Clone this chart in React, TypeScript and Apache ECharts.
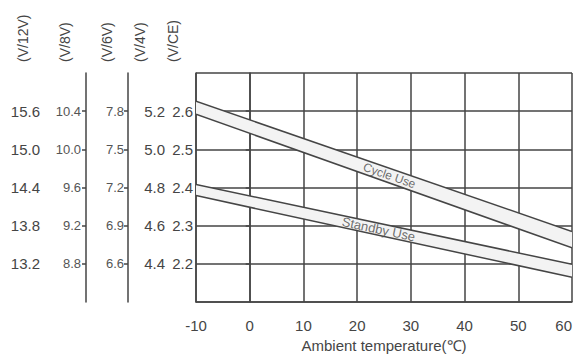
import React, { useEffect, useRef } from "react";
import * as echarts from "echarts";

// Ambient temperature ticks (°C)
const temperatures = [-10, 0, 10, 20, 30, 40, 50, 60];

// Charging-voltage bands, per cell (V/CE), at -10 °C and 60 °C
const bandTemps = [-10, 60];
const cycleUpper = [2.626, 2.285];
const cycleLower = [2.592, 2.242];
const standbyUpper = [2.408, 2.199];
const standbyLower = [2.379, 2.165];

// Labelled ticks of each voltage scale
const ticks12V = [13.2, 13.8, 14.4, 15.0, 15.6];
const ticks8V = [8.8, 9.2, 9.6, 10.0, 10.4];
const ticks6V = [6.6, 6.9, 7.2, 7.5, 7.8];
const ticks4V = [4.4, 4.6, 4.8, 5.0, 5.2];
const ticksCE = [2.2, 2.3, 2.4, 2.5, 2.6];

const scaleNames = ["(V/12V)", "(V/8V)", "(V/6V)", "(V/4V)", "(V/CE)"];

const cycleLabel = "Cycle Use";
const standbyLabel = "Standby Use";
const cycleLabelTemp = 26;
const standbyLabelTemp = 24;

const FONT = "'Liberation Sans', Arial, sans-serif";
const INK = "#454545";

const round = (v: number) => Math.round(v * 10000) / 10000;

function voltAxis(
  ticks: number[],
  offset: number,
  o: { line: boolean; split: boolean; margin: number; size: number; color: string }
) {
  const step = round(ticks[1] - ticks[0]);
  return {
    type: "value",
    position: "left",
    offset,
    min: round(ticks[0] - step),
    max: round(ticks[ticks.length - 1] + step),
    interval: step,
    axisLine: { show: o.line, lineStyle: { color: INK, width: 1.5 } },
    axisTick: { show: o.line && !o.split, length: 4, lineStyle: { color: INK, width: 1.5 } },
    axisLabel: {
      showMinLabel: false,
      showMaxLabel: false,
      margin: o.margin,
      fontSize: o.size,
      color: o.color,
      fontFamily: FONT,
      formatter: (v: number) => v.toFixed(1),
    },
    splitLine: { show: o.split, lineStyle: { color: INK, width: 1.5 } },
  };
}

const lerp = (xs: number[], ys: number[], x: number) =>
  ys[0] + ((ys[1] - ys[0]) * (x - xs[0])) / (xs[1] - xs[0]);

// One band: a filled polygon between its upper and lower edge, outlined
function bandSeries(lower: number[], upper: number[]) {
  return {
    type: "custom",
    yAxisIndex: 4,
    z: 3,
    clip: true,
    encode: { x: 0, y: 1 },
    data: bandTemps.map((t, i) => [t, upper[i], lower[i]]),
    renderItem: (params: any, api: any) => {
      if (params.dataIndex !== 0) return null;
      const top = bandTemps.map((t, i) => api.coord([t, upper[i]]));
      const bottom = bandTemps.map((t, i) => api.coord([t, lower[i]])).reverse();
      return {
        type: "group",
        children: [
          {
            type: "polygon",
            shape: { points: [...top, ...bottom] },
            style: { fill: "#f3f3f3", stroke: "none" },
          },
          {
            type: "polyline",
            shape: { points: top },
            style: { fill: "none", stroke: INK, lineWidth: 1.5 },
          },
          {
            type: "polyline",
            shape: { points: bottom },
            style: { fill: "none", stroke: INK, lineWidth: 1.5 },
          },
        ],
      };
    },
  };
}

function labelSeries(text: string, temp: number, lower: number[], upper: number[], rotate: number, size: number) {
  const mid = (lerp(bandTemps, lower, temp) + lerp(bandTemps, upper, temp)) / 2;
  return {
    type: "scatter",
    yAxisIndex: 4,
    symbolSize: 1,
    z: 6,
    itemStyle: { color: "rgba(0,0,0,0)" },
    label: {
      show: true,
      position: "inside",
      formatter: text,
      rotate,
      fontSize: size,
      color: "#4a4a4a",
      fontFamily: FONT,
    },
    data: [[temp, mid]],
  };
}

export default function App() {
  const ref = useRef<HTMLDivElement>(null);

  useEffect(() => {
    if (!ref.current) return;
    const chart = echarts.init(ref.current, undefined, { renderer: "svg" });

    const nameX = [23, 65, 107, 140, 173];
    const build = (cycleRot: number, standbyRot: number) => ({
      animation: false,
      grid: { left: 196, right: 4, top: 73, bottom: 52 },
      xAxis: {
        type: "value",
        min: temperatures[0],
        max: temperatures[temperatures.length - 1],
        interval: temperatures[1] - temperatures[0],
        name: "Ambient temperature(℃)",
        nameLocation: "middle",
        nameGap: 33,
        nameTextStyle: { fontSize: 15, color: INK, fontFamily: FONT },
        axisLine: { show: true, lineStyle: { color: INK, width: 1.5 } },
        axisTick: { show: false },
        axisLabel: {
          margin: 16,
          fontSize: 15,
          color: INK,
          fontFamily: FONT,
          alignMaxLabel: "right",
        },
        splitLine: { show: true, lineStyle: { color: INK, width: 1.5 } },
      },
      yAxis: [
        voltAxis(ticks12V, 153, { line: true, split: false, margin: 3, size: 15, color: INK }),
        voltAxis(ticks8V, 110, { line: true, split: false, margin: 5, size: 13, color: "#555" }),
        voltAxis(ticks6V, 68, { line: true, split: false, margin: 4, size: 13, color: "#555" }),
        voltAxis(ticks4V, 31, { line: false, split: false, margin: 0, size: 15, color: INK }),
        voltAxis(ticksCE, 0, { line: true, split: true, margin: 3, size: 15, color: INK }),
      ],
      graphic: scaleNames.map((t, i) => ({
        type: "text",
        x: nameX[i],
        y: 62,
        rotation: Math.PI / 2,
        style: {
          text: t,
          fill: INK,
          font: `14px ${FONT}`,
          align: "left",
          verticalAlign: "middle",
        },
      })),
      series: [
        bandSeries(cycleLower, cycleUpper),
        bandSeries(standbyLower, standbyUpper),
        labelSeries(cycleLabel, cycleLabelTemp, cycleLower, cycleUpper, cycleRot, 12),
        labelSeries(standbyLabel, standbyLabelTemp, standbyLower, standbyUpper, standbyRot, 13),
      ],
    });

    chart.setOption(build(0, 0) as any);

    // Tilt each band label to follow its band on screen
    const slope = (lower: number[], upper: number[]) => {
      const m0 = (lower[0] + upper[0]) / 2;
      const m1 = (lower[1] + upper[1]) / 2;
      const p0 = chart.convertToPixel({ seriesIndex: 2 }, [bandTemps[0], m0]) as number[];
      const p1 = chart.convertToPixel({ seriesIndex: 2 }, [bandTemps[1], m1]) as number[];
      return (-Math.atan2(p1[1] - p0[1], p1[0] - p0[0]) * 180) / Math.PI;
    };
    chart.setOption(build(slope(cycleLower, cycleUpper), slope(standbyLower, standbyUpper)) as any);

    return () => chart.dispose();
  }, []);

  return (
    <div
      ref={ref}
      style={{ position: "fixed", left: 0, top: 0, width: 576, height: 358, background: "#fff" }}
    />
  );
}
